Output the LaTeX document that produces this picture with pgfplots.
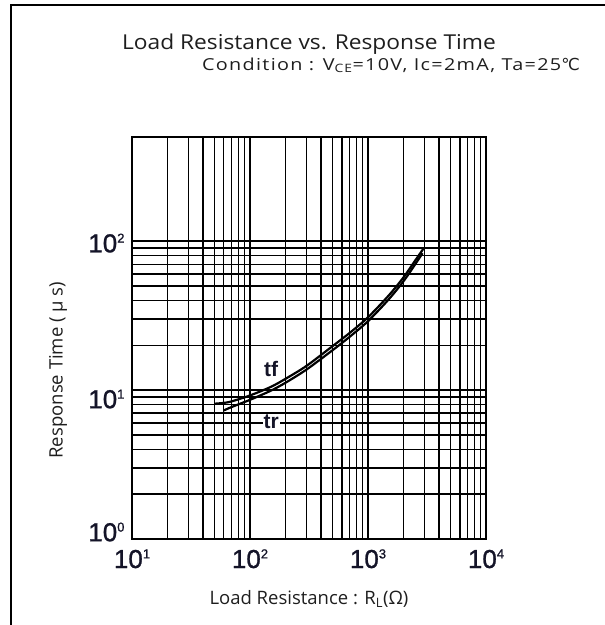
\documentclass[border=0pt]{standalone}
\usepackage{fontspec}
\setmainfont{Open Sans}
\newfontfamily\titlefont[FakeStretch=1.11]{Open Sans}
\newfontfamily\condfont[FakeStretch=1.2, LetterSpace=8]{Open Sans}
\newfontfamily\tickfont[FakeBold=1]{Liberation Sans}
\newfontfamily\arial{Liberation Sans}
\newfontfamily\dejavu{DejaVu Sans}
\usepackage{pgfplots}
\pgfplotsset{compat=1.18}
\definecolor{tickc}{RGB}{20,20,40}
\definecolor{txt}{RGB}{30,30,30}
\newcommand\tl[1]{10\raisebox{0.37em}{\fontsize{13}{13}\selectfont #1}}

\pgfplotstableread{
x y
50 8.1
60 8.2
70 8.4
100 9.2
150 10.5
200 11.9
300 14.5
500 19.7
700 24.2
1000 30.8
1500 43.2
2000 57.1
2500 73.7
2950 89
}\tf
\pgfplotstableread{
x y
60 7.3
70 7.7
100 8.6
150 9.9
200 11.2
300 13.7
500 18.5
700 22.8
1000 29.0
1500 40.7
2000 53.8
2500 69.5
2900 83
}\tr

\begin{document}
\begin{tikzpicture}
\path[use as bounding box] (0,0) rectangle (605pt,-625pt);
\draw[line width=1.4pt] (11pt,-626pt) -- (11pt,-5pt) -- (606pt,-5pt);
\node[anchor=base, inner sep=0pt, text=txt, font=\titlefont\fontsize{20.5}{24}\selectfont] at (309pt,-49pt) {Load Resistance vs. Response Time};
\node[anchor=base east, inner sep=0pt, text=txt, font=\condfont\fontsize{16.5}{19}\selectfont] at (580pt,-70pt) {Condition : V\textsubscript{CE}=10V, Ic=2mA, Ta=25{\dejavu ℃}};

\begin{axis}[
 at={(132pt,-539pt)}, anchor=south west,
 scale only axis, width=354pt, height=402pt,
 xmode=log, ymode=log,
 xmin=10, xmax=10000, ymin=1, ymax=500,
 grid=both,
 major grid style={black, line width=1.35pt},
 minor grid style={black, line width=1.35pt},
 axis line style={line width=1.5pt},
 tick style={draw=none},
 xtick={10,100,1000,10000},
 xticklabels={\tl{1},\tl{2},\tl{3},\tl{4}},
 ytick={1,10,100},
 yticklabels={\raisebox{7pt}[\height][\depth]{\tl{0}},\raisebox{-9pt}[\height][\depth]{\tl{1}},\raisebox{-2pt}[\height][\depth]{\tl{2}}},
 ticklabel style={font=\tickfont\fontsize{26}{28}\selectfont, text=tickc},
 xticklabel style={anchor=base, yshift=-29pt},
 yticklabel style={anchor=east, xshift=-4pt},
 xlabel={Load Resistance : R\textsubscript{L}(Ω)},
 ylabel={Response Time ( μ s)},
 label style={font=\fontsize{18.5}{21}\selectfont, text=txt},
 xlabel style={at={(axis description cs:0.5,-0.1617)}, anchor=base},
 ylabel style={at={(axis description cs:-0.209,0.42)}, anchor=center},
]
\addplot[black, line width=2.2pt, smooth] table[x=x,y=y] {\tf};
\addplot[black, line width=2.2pt, smooth] table[x=x,y=y] {\tr};
\node[fill=white, inner sep=1pt, text=tickc, font=\arial\bfseries\fontsize{21}{23}\selectfont] at (axis cs:151,13.9) {tf};
\node[fill=white, inner sep=1pt, text=tickc, font=\arial\bfseries\fontsize{21}{23}\selectfont] at (axis cs:151,6.15) {tr};
\end{axis}
\end{tikzpicture}
\end{document}
